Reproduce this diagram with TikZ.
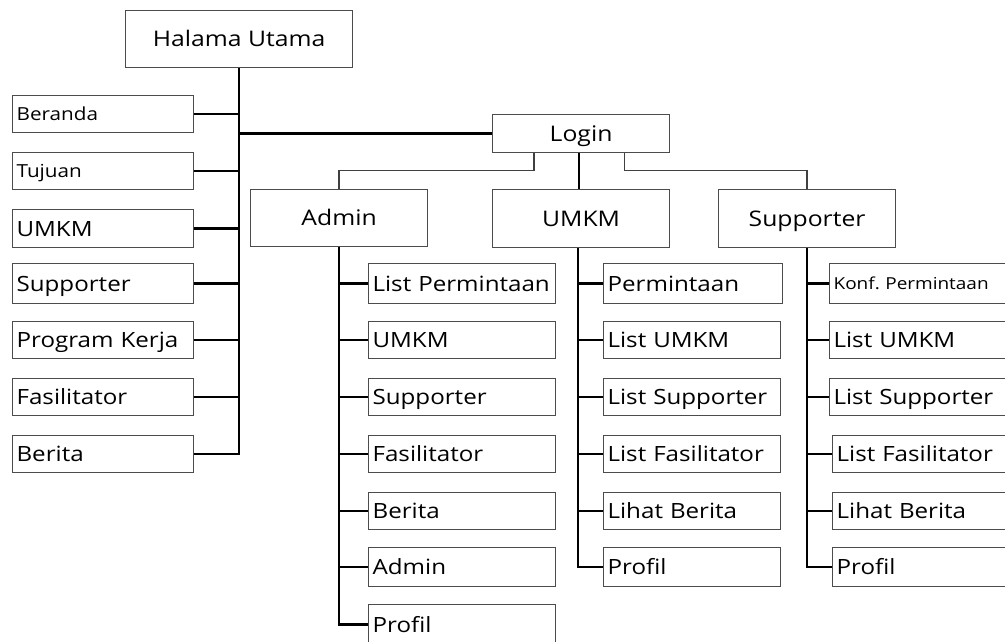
\documentclass[tikz,border=0pt]{standalone}
\usepackage{fontspec}
\setmainfont{Open Sans}[FakeStretch=1.15]
\frenchspacing
\begin{document}
\begin{tikzpicture}[x=1pt,y=-1pt,
  box/.style={draw=black!70, line width=1.2pt, inner sep=0pt, anchor=north west},
  head/.style={box, font=\fontsize{21.5}{24}\selectfont, text height=17.4pt, text depth=2pt},
  item/.style={box, align=left, inner xsep=4pt, font=\fontsize{21}{24}\selectfont,
    text height=17pt, text depth=2pt},
  small/.style={font=\fontsize{18}{21}\selectfont, text height=14.9pt},
  tiny/.style={font=\fontsize{16.5}{19}\selectfont, text height=13.8pt},
  trunk/.style={line width=2.4pt, black},
  branch/.style={line width=1.3pt, black!75},
  midline/.style={line width=2pt, black}]
\useasboundingbox (0,0) rectangle (1005,641);

% top page and login
\node[head, minimum width=227, minimum height=57] (hu) at (125,10) {Halama Utama};
\node[head, minimum width=177, minimum height=38] (login) at (492,114) {Login};
\node[head, minimum width=177, minimum height=57] (admin) at (250,189) {Admin};
\node[head, minimum width=177, minimum height=58] (umkm) at (492,189) {UMKM};
\node[head, minimum width=177, minimum height=58] (supp) at (718,189) {Supporter};

% public menu
\node[item, small, text width=173, minimum height=37] (beranda) at (12,95) {Beranda};
\node[item, small, text width=173, minimum height=37] (tujuan) at (12,152) {Tujuan};
\node[item, text width=173, minimum height=38] (lumkm) at (12,209) {UMKM};
\node[item, text width=173, minimum height=40] (lsupp) at (12,263) {Supporter};
\node[item, text width=173, minimum height=37] (lprog) at (12,321) {Program Kerja};
\node[item, text width=173, minimum height=37] (lfas) at (12,378) {Fasilitator};
\node[item, text width=173, minimum height=37] (lber) at (12,435) {Berita};

% admin menu
\node[item, text width=179, minimum height=40] (a1) at (368,263) {List Permintaan};
\node[item, text width=179, minimum height=37] (a2) at (368,321) {UMKM};
\node[item, text width=179, minimum height=37] (a3) at (368,378) {Supporter};
\node[item, text width=179, minimum height=37] (a4) at (368,435) {Fasilitator};
\node[item, text width=179, minimum height=37] (a5) at (368,492) {Berita};
\node[item, text width=179, minimum height=39] (a6) at (368,547) {Admin};
\node[item, text width=179, minimum height=40] (a7) at (368,604) {Profil};

% umkm menu
\node[item, text width=171, minimum height=40] (u1) at (603,263) {Permintaan};
\node[item, text width=169, minimum height=37] (u2) at (603,321) {List UMKM};
\node[item, text width=169, minimum height=37] (u3) at (603,378) {List Supporter};
\node[item, text width=169, minimum height=37] (u4) at (603,435) {List Fasilitator};
\node[item, text width=169, minimum height=37] (u5) at (603,492) {Lihat Berita};
\node[item, text width=169, minimum height=39] (u6) at (603,547) {Profil};

% supporter menu
\node[item, tiny, text width=175, minimum height=40] (s1) at (829,263) {Konf. Permintaan};
\node[item, text width=175, minimum height=37] (s2) at (829,321) {List UMKM};
\node[item, text width=175, minimum height=37] (s3) at (829,378) {List Supporter};
\node[item, text width=172, minimum height=37] (s4) at (832,435) {List Fasilitator};
\node[item, text width=172, minimum height=37] (s5) at (832,492) {Lihat Berita};
\node[item, text width=172, minimum height=39] (s6) at (832,547) {Profil};

% main trunk
\draw[trunk] (hu.south) -- (hu.south |- lber.east) -- (lber.east);
\foreach \n in {beranda,tujuan,lumkm,lsupp,lprog,lfas}
  \draw[trunk] (\n.east) -- (\n.east -| hu.south);
\draw[trunk] (login.west -| hu.south) -- (login.west);

% login branches
\draw[branch] ([xshift=42pt]login.south west) -- ++(0,17) -| (admin.north);
\draw[midline] ([xshift=-2pt]login.south) -- ([xshift=-2pt]umkm.north);
\draw[branch] ([xshift=-46pt]login.south east) -- ++(0,17) -| (supp.north);

% admin trunk
\draw[trunk] (admin.south) -- (admin.south |- a7.west) -- (a7.west);
\foreach \n in {a1,a2,a3,a4,a5,a6}
  \draw[trunk] (\n.west -| admin.south) -- (\n.west);

% umkm trunk
\coordinate (ut) at ([xshift=-3pt]umkm.south);
\draw[trunk] (ut) -- (ut |- u6.west) -- (u6.west);
\foreach \n in {u1,u2,u3,u4,u5}
  \draw[trunk] (\n.west -| ut) -- (\n.west);

% supporter trunk
\draw[trunk] (supp.south) -- (supp.south |- s6.west) -- (s6.west);
\foreach \n in {s1,s2,s3,s4,s5}
  \draw[trunk] (\n.west -| supp.south) -- (\n.west);
\end{tikzpicture}
\end{document}
